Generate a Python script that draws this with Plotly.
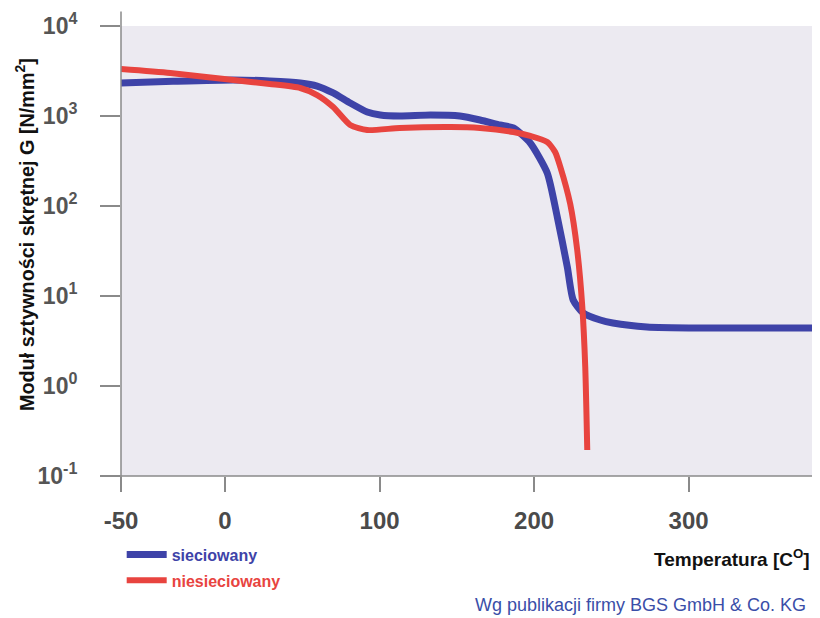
import plotly.graph_objects as go
import numpy as np

# ---- data (temperature in °C, G in N/mm^2) ----
temp_sieciowany = [-50, -25, 5.4, 29, 48.7, 59.6, 70, 81, 92, 100.5, 113, 133, 152, 165, 178,
                   186.6, 197.5, 208.5, 215, 221.5, 225.3, 231.8, 242.8, 251, 273, 307, 383]
logG_sieciowany = [3.367, 3.385, 3.40, 3.389, 3.367, 3.333, 3.256, 3.144, 3.044, 3.011, 3.0, 3.011,
                   3.0, 2.956, 2.90, 2.867, 2.70, 2.367, 1.878, 1.322, 0.956, 0.811, 0.733, 0.70,
                   0.656, 0.644, 0.644]
G_sieciowany = [10 ** v for v in logG_sieciowany]

temp_niesieciowany = [-50, -26.3, 5.4, 29, 48.7, 59.6, 70, 81, 92, 113, 146, 165, 186.6, 197.5,
                      208.5, 213.6, 217, 223.4, 227.9, 231.2, 233.1, 234.4]
logG_niesieciowany = [3.522, 3.478, 3.40, 3.356, 3.311, 3.233, 3.10, 2.90, 2.844, 2.867, 2.878,
                      2.867, 2.822, 2.778, 2.711, 2.60, 2.433, 2.02, 1.511, 0.878, 0.211, -0.711]
G_niesieciowany = [10 ** v for v in logG_niesieciowany]

x_tick_values = [-50, 0, 100, 200, 300]
x_tick_labels = ["<b>-50</b>", "<b>0</b>", "<b>100</b>", "<b>200</b>", "<b>300</b>"]
y_tick_values = [0.1, 1, 10, 100, 1000, 10000]
y_tick_labels = ["<b>10<sup>-1</sup></b>", "<b>10<sup>0</sup></b>", "<b>10<sup>1</sup></b>",
                 "<b>10<sup>2</sup></b>", "<b>10<sup>3</sup></b>", "<b>10<sup>4</sup></b>"]

# The original drawing stretches the -50..0 interval; emulate that piecewise scale
NEG_STRETCH = 67.3 / 50.0


def pos(t):
    t = np.asarray(t, dtype=float)
    return np.where(t < 0, t * NEG_STRETCH, t)


BLUE = "#3e43a8"
RED = "#e8443f"

fig = go.Figure()
fig.add_trace(go.Scatter(
    x=pos(temp_sieciowany), y=G_sieciowany, mode="lines",
    line=dict(color=BLUE, width=7, shape="spline", smoothing=0.6),
    name="<span style='color:#3e43a8'><b>sieciowany</b></span>", legendgroup="a"))
fig.add_trace(go.Scatter(
    x=pos(temp_niesieciowany), y=G_niesieciowany, mode="lines",
    line=dict(color=RED, width=6, shape="spline", smoothing=0.6),
    name="<span style='color:#e8443f'><b>niesieciowany</b></span>", legendgroup="b"))

AX = "#8a8a8a"
fig.update_layout(
    width=812, height=618,
    margin=dict(l=113, r=0, t=18, b=150),
    paper_bgcolor="white", plot_bgcolor="#eceaf1",
    font=dict(family="Liberation Sans, Arial, sans-serif", color="#505050"),
    showlegend=True,
    legend=dict(x=0.001, y=-0.137, xanchor="left", yanchor="top",
                bgcolor="rgba(0,0,0,0)", tracegroupgap=2, traceorder="grouped",
                itemwidth=40,
                font=dict(size=16, family="Liberation Sans, Arial")),
    xaxis=dict(range=[float(pos(-50)), 385], tickvals=list(pos(x_tick_values)),
               ticktext=x_tick_labels, ticks="outside", ticklen=15, tickcolor=AX,
               tickwidth=1.5, showgrid=False, zeroline=False, showline=False,
               tickfont=dict(size=24, color="#4a4a4a", family="Liberation Sans, Arial"),
               ticklabelstandoff=8),
    yaxis=dict(type="log", range=[-1, 4], tickvals=y_tick_values, ticktext=y_tick_labels,
               ticks="outside", ticklen=20, tickcolor=AX, tickwidth=1.5,
               showgrid=False, zeroline=False, showline=False,
               tickfont=dict(size=23, color="#555555", family="Liberation Sans, Arial"),
               ticklabelstandoff=18),
)

# axis lines (extend a little beyond the plot area as in the original)
fig.add_shape(type="line", xref="paper", yref="paper", x0=0, x1=0, y0=-0.035, y1=1.032,
              line=dict(color=AX, width=1.5))
fig.add_shape(type="line", xref="paper", yref="paper", x0=-0.027, x1=1, y0=0, y1=0,
              line=dict(color=AX, width=1.5))

fig.add_annotation(text="<b>Moduł sztywności skrętnej G [N/mm<sup>2</sup>]</b>",
                   xref="paper", yref="paper", x=-0.137, y=0.536, textangle=-90,
                   showarrow=False, xanchor="center", yanchor="middle",
                   font=dict(size=19.8, color="#111111", family="Liberation Sans, Arial"))
fig.add_annotation(text="<b>Temperatura [C<sup>O</sup>]</b>",
                   xref="paper", yref="paper", x=0.988, y=-0.182, xanchor="right",
                   yanchor="middle", showarrow=False,
                   font=dict(size=19, color="#111111", family="Liberation Sans, Arial"))
fig.add_annotation(text="Wg publikacji firmy BGS GmbH &amp; Co. KG",
                   xref="paper", yref="paper", x=0.983, y=-0.287, xanchor="right",
                   yanchor="middle", showarrow=False,
                   font=dict(size=18, color="#3a4ea8", family="Liberation Sans, Arial"))

fig.write_html("out.html")
